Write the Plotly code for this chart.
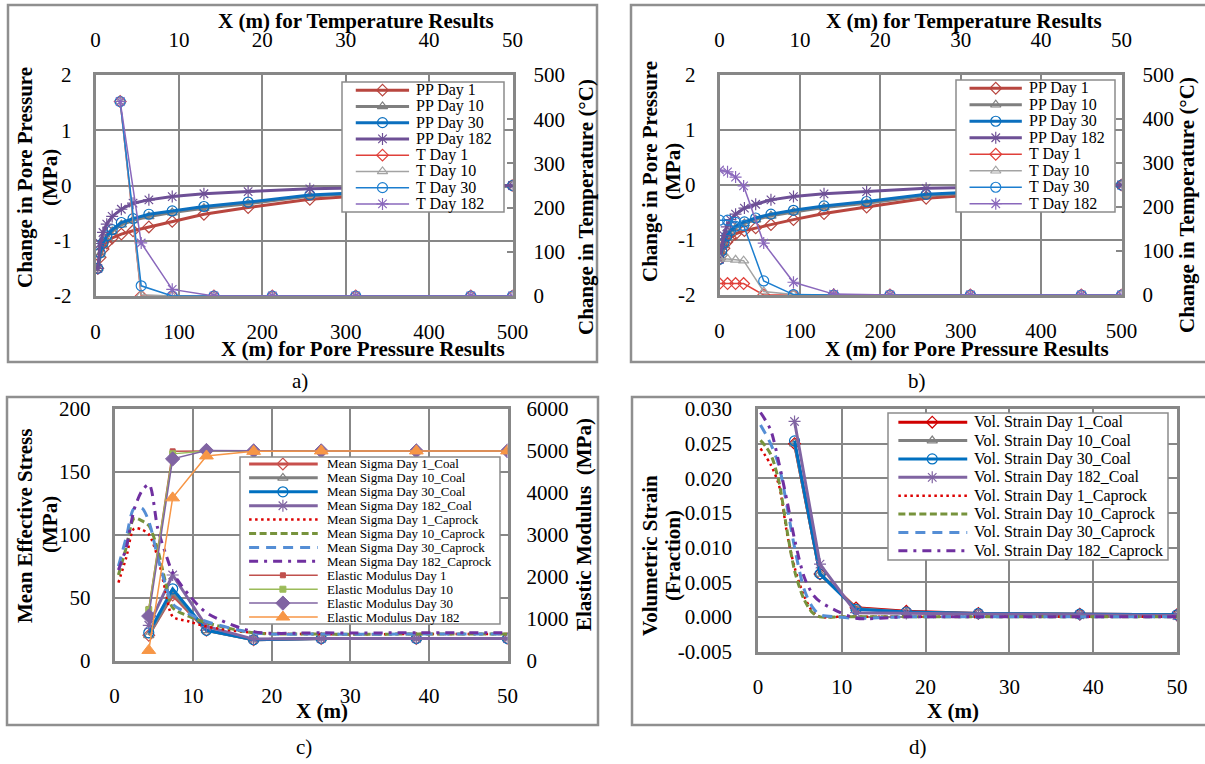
import plotly.graph_objects as go

FONT = "Liberation Serif"
W, H = 1205, 764
GRID = "#878787"

# ---------------- DATA ----------------
# Panel a (pore pressure on bottom/left axes, temperature on top/right axes)
pp_x_a = [2.8, 5.5, 9, 13.5, 20, 31, 45, 64, 92, 130, 183, 257, 500]
pp_day1_a = [-1.5, -1.3, -1.15, -1.04, -0.95, -0.88, -0.82, -0.75, -0.65, -0.52, -0.40, -0.25, 0.0]
pp_day10_a = [-1.5, -1.25, -1.07, -0.94, -0.83, -0.71, -0.63, -0.56, -0.49, -0.41, -0.33, -0.19, 0.0]
pp_day30_a = [-1.5, -1.22, -1.04, -0.91, -0.80, -0.67, -0.60, -0.52, -0.46, -0.38, -0.30, -0.17, 0.0]
pp_day182_a = [-1.5, -1.05, -0.85, -0.70, -0.56, -0.43, -0.32, -0.26, -0.20, -0.15, -0.11, -0.06, 0.0]
t_x_a = [2.96, 5.48, 9.2, 14.2, 21.2, 31.2, 45.0, 50.0]
t_day1_a = [440, 0, 0, 0, 0, 0, 0, 0]
t_day10_a = [440, 3, 0, 0, 0, 0, 0, 0]
t_day30_a = [440, 23, 0, 0, 0, 0, 0, 0]
t_day182_a = [440, 120, 15, 0, 0, 0, 0, 0]

# Panel b
pp_x_b = [0, 2.8, 5.5, 9, 13.5, 20, 31, 45, 64, 92, 130, 183, 257, 500]
pp_day1_b = [-1.35, -1.27, -1.15, -1.04, -0.96, -0.89, -0.83, -0.78, -0.72, -0.63, -0.52, -0.40, -0.24, 0.0]
pp_day10_b = [-1.35, -1.22, -1.08, -0.96, -0.86, -0.78, -0.70, -0.63, -0.56, -0.49, -0.41, -0.33, -0.19, 0.0]
pp_day30_b = [-1.35, -1.20, -1.05, -0.93, -0.83, -0.75, -0.67, -0.60, -0.53, -0.46, -0.38, -0.30, -0.17, 0.0]
pp_day182_b = [-1.35, -1.10, -0.92, -0.76, -0.63, -0.53, -0.42, -0.35, -0.27, -0.21, -0.16, -0.12, -0.06, 0.0]
t_x_b = [0, 1, 2, 3, 5.5, 9.2, 14.2, 21.2, 31.2, 45.0, 50.0]
t_day1_b = [26, 26, 26, 26, 0, 0, 0, 0, 0, 0, 0]
t_day10_b = [82, 82, 80, 78, 8, 1, 0, 0, 0, 0, 0]
t_day30_b = [170, 170, 165, 158, 32, 1, 0, 0, 0, 0, 0]
t_day182_b = [284, 280, 268, 248, 118, 29, 2, 0, 0, 0, 0]

# Panel c
x_coal = [4.36, 7.4, 11.7, 17.7, 26.3, 38.4, 50]
ms_coal_day1 = [20, 52, 24, 16.5, 17.5, 17.5, 17.5]
ms_coal_day10 = [20, 54, 24, 16.5, 17.5, 17.5, 17.5]
ms_coal_day30 = [22, 57, 24, 16.5, 17.5, 17.5, 17.5]
ms_coal_day182 = [28, 68, 27, 17, 17.5, 17.5, 17.5]
x_cap_c = [0.5, 1.5, 2.5, 3.5, 4.4, 5.5, 6.5, 7.4, 9.5, 11.7, 17.7, 26.3, 38.4, 50]
ms_cap_day1 = [62, 82, 105, 104, 100, 82, 55, 35, 31, 27, 22, 21, 21, 21]
ms_cap_day10 = [68, 90, 113, 111, 107, 88, 62, 42, 35, 30, 22, 21, 21, 21]
ms_cap_day30 = [75, 98, 121, 121, 110, 82, 60, 45, 37, 31, 22, 21, 21, 21]
ms_cap_day182 = [72, 90, 120, 135, 140, 105, 85, 70, 52, 38, 23, 22, 22, 22]
em_day1 = [1230, 4990, 5000, 5000, 5000, 5000, 5000]
em_day10 = [1210, 4930, 5000, 5000, 5000, 5000, 5000]
em_day30 = [1060, 4810, 5010, 5000, 5000, 5000, 5000]
em_day182 = [240, 3880, 4880, 4990, 5000, 5000, 5000]

# Panel d
vs_coal_day1 = [0.0250, 0.0062, 0.0013, 0.0008, 0.0005, 0.0004, 0.0003]
vs_coal_day10 = [0.0250, 0.0062, 0.0012, 0.0007, 0.0005, 0.0004, 0.0003]
vs_coal_day30 = [0.0254, 0.0062, 0.0011, 0.0007, 0.0005, 0.0004, 0.0003]
vs_coal_day182 = [0.0282, 0.0076, 0.0006, 0.0005, 0.0004, 0.0003, 0.0002]
x_cap_d = [0.3, 1.5, 2.5, 3.5, 4.4, 5.5, 6.5, 7.4, 9.5, 11.7, 17.7, 26.3, 38.4, 50]
vs_cap_day1 = [0.0243, 0.0220, 0.0190, 0.0118, 0.0070, 0.0030, 0.0008, 0.0000, 0, 0, 0, 0, 0, 0]
vs_cap_day10 = [0.0255, 0.0235, 0.0195, 0.0122, 0.0065, 0.0025, 0.0006, 0.0000, 0, 0, 0, 0, 0, 0]
vs_cap_day30 = [0.0277, 0.0250, 0.0218, 0.0157, 0.0098, 0.0040, 0.0014, 0.0003, 0, -0.0002, 0, 0, 0, 0]
vs_cap_day182 = [0.0295, 0.0270, 0.0222, 0.0165, 0.0110, 0.0058, 0.0033, 0.0022, 0.0008, -0.0002, 0, 0, 0, 0]

# Tick labels
pp_tickvals = [-2, -1, 0, 1, 2]
pp_ticktext = ["-2", "-1", "0", "1", "2"]
vs_tickvals = [-0.005, 0.0, 0.005, 0.010, 0.015, 0.020, 0.025, 0.030]
vs_ticktext = ["-0.005", "0.000", "0.005", "0.010", "0.015", "0.020", "0.025", "0.030"]

# ---------------- STYLES ----------------
def st(color, width, symbol=None, size=8, dash="solid", shape="linear"):
    return dict(color=color, width=width, symbol=symbol, size=size, dash=dash, shape=shape)

S_PP1 = st("#B8463F", 3, "diamond-open", 9)
S_PP10 = st("#7F7F7F", 3, "triangle-up-open", 9)
S_PP30 = st("#0B6FBE", 3, "circle-open", 10)
S_PP182 = st("#6E5096", 3, "asterisk-open", 10)
S_T1 = st("#E0403A", 1.5, "diamond-open", 9)
S_T10 = st("#A3A3A3", 1.5, "triangle-up-open", 9)
S_T30 = st("#1C7ECF", 1.5, "circle-open", 10)
S_T182 = st("#8A68BC", 1.5, "asterisk-open", 10)

S_MC1 = st("#C8504D", 3, "diamond-open", 9)
S_MC10 = st("#808080", 3, "triangle-up-open", 9)
S_MC30 = st("#0070C0", 3, "circle-open", 10)
S_MC182 = st("#8064A2", 3, "asterisk-open", 10)
S_CAP1 = st("#DD0000", 2.5, None, dash="2.5px,3.5px", shape="spline")
S_CAP10 = st("#77933C", 3, None, dash="7px,3.5px", shape="spline")
S_CAP30 = st("#558ED5", 3, None, dash="10px,7px", shape="spline")
S_CAP182 = st("#7030A0", 3, None, dash="9px,6px,3px,6px", shape="spline")
S_EM1 = st("#C0504D", 1.5, "square", 5)
S_EM10 = st("#9BBB59", 1.5, "square", 6)
S_EM30 = st("#8064A2", 1.5, "diamond", 11)
S_EM182 = st("#F79646", 1.5, "triangle-up", 12)
S_VC1 = st("#D00000", 3, "diamond-open", 9)

fig = go.Figure()


def marker_of(s):
    lw = 1.2 if s["symbol"].endswith("open") else 1
    return dict(symbol=s["symbol"], size=s["size"], color=s["color"], line=dict(color=s["color"], width=lw))


def add_series(x, y, s, xa, ya):
    mode = "lines+markers" if s["symbol"] else "lines"
    kw = dict(x=x, y=y, mode=mode, xaxis=xa, yaxis=ya, showlegend=False, hoverinfo="skip",
              line=dict(color=s["color"], width=s["width"], dash=s["dash"], shape=s["shape"],
                        smoothing=0.8 if s["shape"] == "spline" else 1))
    if s["symbol"]:
        kw["marker"] = marker_of(s)
    fig.add_trace(go.Scatter(**kw))


# Panel a
for y, s in [(pp_day1_a, S_PP1), (pp_day10_a, S_PP10), (pp_day30_a, S_PP30), (pp_day182_a, S_PP182)]:
    add_series(pp_x_a, y, s, "x", "y")
for y, s in [(t_day1_a, S_T1), (t_day10_a, S_T10), (t_day30_a, S_T30), (t_day182_a, S_T182)]:
    add_series(t_x_a, y, s, "x2", "y2")
# Panel b
for y, s in [(pp_day1_b, S_PP1), (pp_day10_b, S_PP10), (pp_day30_b, S_PP30), (pp_day182_b, S_PP182)]:
    add_series(pp_x_b, y, s, "x3", "y3")
for y, s in [(t_day1_b, S_T1), (t_day10_b, S_T10), (t_day30_b, S_T30), (t_day182_b, S_T182)]:
    add_series(t_x_b, y, s, "x4", "y4")
# Panel c
for y, s in [(ms_coal_day1, S_MC1), (ms_coal_day10, S_MC10), (ms_coal_day30, S_MC30), (ms_coal_day182, S_MC182)]:
    add_series(x_coal, y, s, "x5", "y5")
for y, s in [(ms_cap_day1, S_CAP1), (ms_cap_day10, S_CAP10), (ms_cap_day30, S_CAP30), (ms_cap_day182, S_CAP182)]:
    add_series(x_cap_c, y, s, "x5", "y5")
for y, s in [(em_day1, S_EM1), (em_day10, S_EM10), (em_day30, S_EM30), (em_day182, S_EM182)]:
    add_series(x_coal, y, s, "x5", "y6")
# Panel d
for y, s in [(vs_coal_day1, S_VC1), (vs_coal_day10, S_MC10), (vs_coal_day30, S_MC30), (vs_coal_day182, S_MC182)]:
    add_series(x_coal, y, s, "x6", "y7")
for y, s in [(vs_cap_day1, S_CAP1), (vs_cap_day10, S_CAP10), (vs_cap_day30, S_CAP30), (vs_cap_day182, S_CAP182)]:
    add_series(x_cap_d, y, s, "x6", "y7")


# ---------------- AXES ----------------
def dxp(a, b):
    return [a / W, b / W]


def dyp(top, bottom):
    return [1 - bottom / H, 1 - top / H]


TF = dict(family=FONT, size=21, color="black")


def axis(rng, dtick=None, domain=None, anchor=None, side=None, overlaying=None,
         grid=True, line=True, standoff=20, ticks="", tickvals=None, ticktext=None):
    d = dict(range=rng, showgrid=grid, gridcolor=GRID, gridwidth=2, zeroline=False,
             showline=line, linecolor=GRID, linewidth=2.5, mirror=line, automargin=False,
             ticks=ticks, tickfont=TF, ticklabelstandoff=standoff, fixedrange=True)
    if dtick is not None:
        d["dtick"] = dtick
    if domain is not None:
        d["domain"] = domain
    if anchor is not None:
        d["anchor"] = anchor
    if side is not None:
        d["side"] = side
    if overlaying is not None:
        d["overlaying"] = overlaying
    if tickvals is not None:
        d["tickmode"] = "array"
        d["tickvals"] = tickvals
        d["ticktext"] = ticktext
    if ticks == "inside":
        d.update(ticklen=6, tickwidth=2, tickcolor=GRID)
    return d


A_X, A_Y = dxp(95.5, 512.5), dyp(75, 296)
B_X, B_Y = dxp(719.5, 1121.5), dyp(75, 295)
C_X, C_Y = dxp(114.5, 507.5), dyp(409, 660.5)
D_X, D_Y = dxp(758, 1177), dyp(409, 651.5)

SB, ST, SL, SR = 15, 23, 17, 20   # label standoffs: bottom, top, left, right

layout = dict(
    xaxis=axis([0, 500], 100, A_X, "y", standoff=SB),
    xaxis2=axis([0, 50], 10, None, "y", side="top", overlaying="x", grid=False, line=False, standoff=ST),
    yaxis=axis([-2, 2], None, A_Y, "x", standoff=SL, tickvals=pp_tickvals, ticktext=pp_ticktext),
    yaxis2=axis([0, 500], 100, None, "x", side="right", overlaying="y", grid=False, line=False,
                standoff=SR, ticks="inside"),
    xaxis3=axis([0, 500], 100, B_X, "y3", standoff=SB),
    xaxis4=axis([0, 50], 10, None, "y3", side="top", overlaying="x3", grid=False, line=False, standoff=ST),
    yaxis3=axis([-2, 2], None, B_Y, "x3", standoff=SL, tickvals=pp_tickvals, ticktext=pp_ticktext),
    yaxis4=axis([0, 500], 100, None, "x3", side="right", overlaying="y3", grid=False, line=False,
                standoff=SR, ticks="inside"),
    xaxis5=axis([0, 50], 10, C_X, "y5", standoff=SB),
    yaxis5=axis([0, 200], 50, C_Y, "x5", standoff=SL),
    yaxis6=axis([0, 6000], 1000, None, "x5", side="right", overlaying="y5", grid=False, line=False,
                standoff=SR - 2),
    xaxis6=axis([0, 50], 10, D_X, "y7", standoff=SB),
    yaxis7=axis([-0.005, 0.030], None, D_Y, "x6", standoff=SL + 2, tickvals=vs_tickvals, ticktext=vs_ticktext),
)

# ---------------- LEGENDS (boxes drawn on their own hidden axes) ----------------
legend_specs = [
    dict(box=(342, 82, 504, 212), fr=(0.085, 0.25, 0.414, 0.446), fs=16,
         entries=[("PP Day 1", S_PP1), ("PP Day 10", S_PP10), ("PP Day 30", S_PP30), ("PP Day 182", S_PP182),
                  ("T Day 1", S_T1), ("T Day 10", S_T10), ("T Day 30", S_T30), ("T Day 182", S_T182)]),
    dict(box=(956, 80, 1115, 212), fr=(0.085, 0.25, 0.414, 0.446), fs=16,
         entries=[("PP Day 1", S_PP1), ("PP Day 10", S_PP10), ("PP Day 30", S_PP30), ("PP Day 182", S_PP182),
                  ("T Day 1", S_T1), ("T Day 10", S_T10), ("T Day 30", S_T30), ("T Day 182", S_T182)]),
    dict(box=(240, 457, 500, 624), fr=(0.035, 0.165, 0.299, 0.327), fs=13,
         entries=[("Mean Sigma Day 1_Coal", S_MC1), ("Mean Sigma Day 10_Coal", S_MC10),
                  ("Mean Sigma Day 30_Coal", S_MC30), ("Mean Sigma Day 182_Coal", S_MC182),
                  ("Mean Sigma Day 1_Caprock", S_CAP1), ("Mean Sigma Day 10_Caprock", S_CAP10),
                  ("Mean Sigma Day 30_Caprock", S_CAP30), ("Mean Sigma Day 182_Caprock", S_CAP182),
                  ("Elastic Modulus Day 1", S_EM1), ("Elastic Modulus Day 10", S_EM10),
                  ("Elastic Modulus Day 30", S_EM30), ("Elastic Modulus Day 182", S_EM182)]),
    dict(box=(888, 413, 1168, 560), fr=(0.037, 0.158, 0.283, 0.300), fs=16,
         entries=[("Vol. Strain Day 1_Coal", S_VC1), ("Vol. Strain Day 10_Coal", S_MC10),
                  ("Vol. Strain Day 30_Coal", S_MC30), ("Vol. Strain Day 182_Coal", S_MC182),
                  ("Vol. Strain Day 1_Caprock", S_CAP1), ("Vol. Strain Day 10_Caprock", S_CAP10),
                  ("Vol. Strain Day 30_Caprock", S_CAP30), ("Vol. Strain Day 182_Caprock", S_CAP182)]),
]

annotations = []
shapes = []

for k, spec in enumerate(legend_specs):
    xi, yi = 7 + k, 8 + k
    xa, ya = f"x{xi}", f"y{yi}"
    x0, y0, x1, y1 = spec["box"]
    ents = spec["entries"]
    n = len(ents)
    layout[f"xaxis{xi}"] = dict(domain=[x0 / W, x1 / W], range=[0, 1], visible=False, anchor=ya,
                                fixedrange=True, automargin=False)
    layout[f"yaxis{yi}"] = dict(domain=[1 - y1 / H, 1 - y0 / H], range=[n, 0], visible=False, anchor=xa,
                                fixedrange=True, automargin=False)
    fig.add_trace(go.Scatter(x=[0, 1, 1, 0, 0], y=[0, 0, n, n, 0], mode="lines", fill="toself",
                             fillcolor="white", line=dict(width=0, color="white"), xaxis=xa, yaxis=ya,
                             showlegend=False, hoverinfo="skip"))
    fa, fm, fb, ft = spec["fr"]
    for i, (name, s) in enumerate(ents):
        yc = i + 0.5
        fig.add_trace(go.Scatter(x=[fa, fb], y=[yc, yc], mode="lines", xaxis=xa, yaxis=ya, showlegend=False,
                                 hoverinfo="skip",
                                 line=dict(color=s["color"], width=s["width"], dash=s["dash"])))
        if s["symbol"]:
            fig.add_trace(go.Scatter(x=[fm], y=[yc], mode="markers", xaxis=xa, yaxis=ya, showlegend=False,
                                     hoverinfo="skip", marker=marker_of(s)))
        annotations.append(dict(text=name, x=ft, y=yc, xref=xa, yref=ya, showarrow=False, xanchor="left",
                                yanchor="middle", font=dict(family=FONT, size=spec["fs"], color="black")))
    shapes.append(dict(type="rect", xref="paper", yref="paper", x0=x0 / W, x1=x1 / W, y0=1 - y1 / H,
                       y1=1 - y0 / H, line=dict(color="#8C8C8C", width=1.5), layer="above"))


# ---------------- TEXT ----------------
def text(t, x, y, size=21, bold=True, angle=0):
    annotations.append(dict(text=f"<b>{t}</b>" if bold else t, x=x / W, y=1 - y / H, xref="paper",
                            yref="paper", showarrow=False, textangle=angle, xanchor="center",
                            yanchor="middle", font=dict(family=FONT, size=size, color="black")))


# panel a
text("X (m) for Temperature Results", 356, 21)
text("X (m) for Pore Pressure Results", 363, 349)
text("Change in Pore Pressure", 25, 178, angle=-90)
text("(MPa)", 50, 178, angle=-90)
text("Change in Temperature (°C)", 586, 207, angle=-90)
# panel b
text("X (m) for Temperature Results", 964, 21)
text("X (m) for Pore Pressure Results", 967, 349)
text("Change in Pore Pressure", 650, 172, angle=-90)
text("(MPa)", 673, 172, angle=-90)
text("Change in Temperature (°C)", 1187, 205, angle=-90)
# panel c
text("X (m)", 322, 711)
text("Mean Effective Stress", 25, 526, angle=-90)
text("(MPa)", 50, 525, angle=-90)
text("Elastic Modulus  (MPa)", 584, 525, angle=-90)
# panel d
text("X (m)", 953, 711)
text("Volumetric Strain", 650, 556, angle=-90)
text("(Fraction)", 673, 556, angle=-90)
# captions
text("a)", 300, 381, bold=False)
text("b)", 917, 381, bold=False)
text("c)", 304, 747, bold=False)
text("d)", 918, 747, bold=False)

# outer panel frames
for (a, b, c, d) in [(8, 5, 597, 362), (631, 5, 1215, 362), (7, 397, 598, 725), (632, 397, 1215, 725)]:
    shapes.append(dict(type="rect", xref="paper", yref="paper", x0=a / W, x1=c / W, y0=1 - d / H, y1=1 - b / H,
                       line=dict(color="#8F8F8F", width=2.5), layer="below"))

layout.update(width=W, height=H, margin=dict(l=0, r=0, t=0, b=0, autoexpand=False), paper_bgcolor="white",
              plot_bgcolor="white", showlegend=False, hovermode=False, annotations=annotations,
              shapes=shapes, font=dict(family=FONT, color="black"))
fig.update_layout(**layout)
fig.write_html("out.html")
